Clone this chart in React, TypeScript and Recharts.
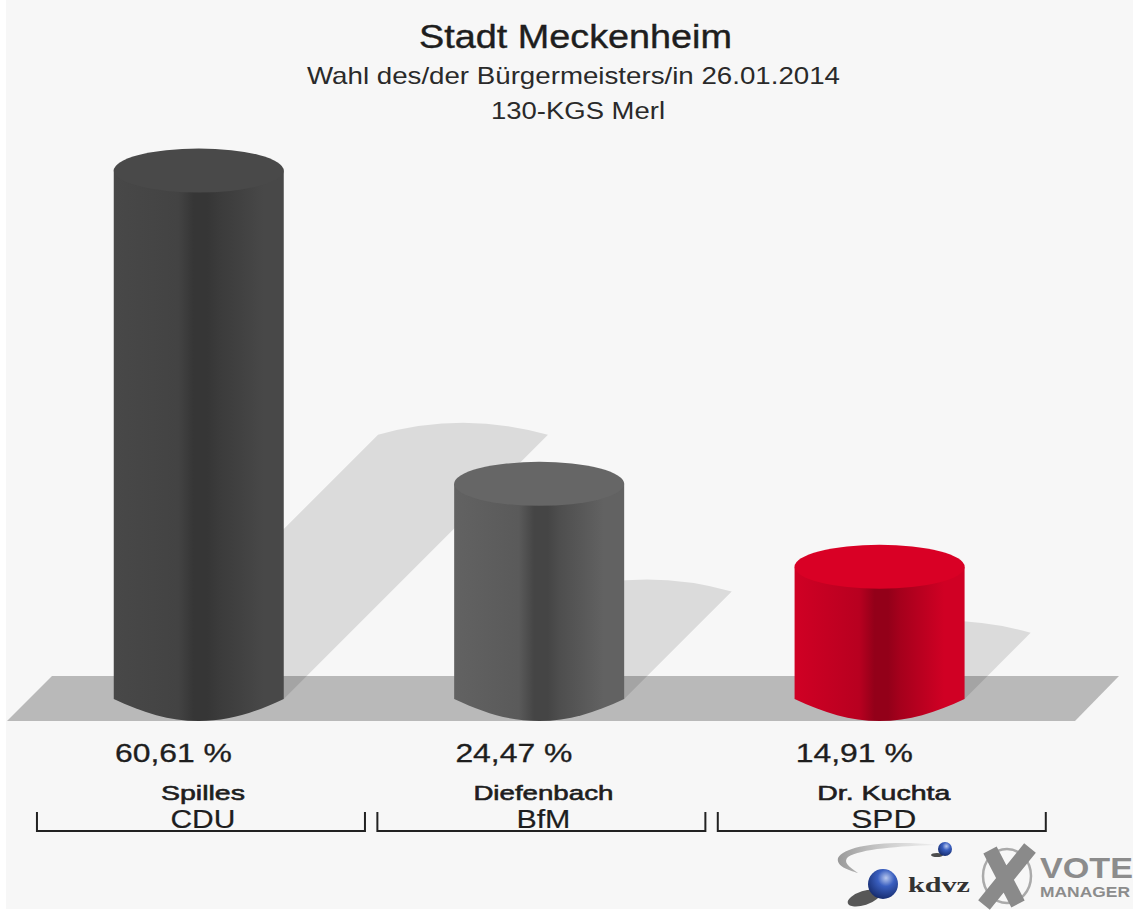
import React from "react";
import { BarChart, Bar, XAxis, YAxis } from "recharts";

const candidates = ["Spilles", "Diefenbach", "Dr. Kuchta"];
const parties = ["CDU", "BfM", "SPD"];
const shares = [60.61, 24.47, 14.91];
const shareLabels = ["60,61 %", "24,47 %", "14,91 %"];
const edgeColors = ["#484848", "#626262", "#d00024"];
const midColors = ["#434343", "#5a5a5a", "#b80020"];
const coreColors = ["#363636", "#454545", "#930019"];
const afterColors = ["#3b3b3b", "#4e4e4e", "#a5001c"];
const capColors = ["#494949", "#666666", "#d90025"];

const rows = candidates.map((name, i) => ({ name, party: parties[i], share: shares[i], label: shareLabels[i] }));

const W = 1133;
const H = 911;
const PLOT_TOP = 132.5;
const PLOT_BOTTOM = 696;
const BASE_DROP = 3;
const RY = 22;
const FONT = "'Liberation Sans', Arial, sans-serif";

function Stretched({ cx, y, w, size, children, fill = "#1e1e1e", weight = 400, bold = 0 }: any) {
  return (
    <text
      x={cx - w / 2}
      y={y}
      textLength={w}
      lengthAdjust="spacingAndGlyphs"
      fontFamily={FONT}
      fontSize={size}
      fontWeight={weight}
      fill={fill}
      stroke={bold ? fill : "none"}
      strokeWidth={bold}
    >
      {children}
    </text>
  );
}

function ShadowShape(props: any) {
  const { x, y, width, height, index } = props;
  const base = y + height + BASE_DROP;
  const s = (base - y) / 2;
  const right = x + width;
  const cx = x + width / 2;
  return (
    <g>
      {index === 0 && <path d="M7 721 L52 676 L1119 676 L1075 721 Z" fill="#b9b9b9" />}
      <path
        d={`M${x} ${base} L${x + s} ${base - s} Q${cx + s} ${base - s - 24} ${right + s} ${base - s} L${right} ${base} Z`}
        fill="#000"
        fillOpacity={0.11}
      />
    </g>
  );
}

function CylinderShape(props: any) {
  const { x, y, width, height, index } = props;
  const base = y + height + BASE_DROP;
  const right = x + width;
  const cx = x + width / 2;
  return (
    <g>
      <path
        d={`M${x} ${y} L${x} ${base} C${x + 30} ${base + 14} ${x + 55} ${base + RY} ${cx} ${base + RY} C${right - 55} ${base + RY} ${right - 30} ${base + 14} ${right} ${base} L${right} ${y} Z`}
        fill={`url(#cyl${index})`}
      />
      <ellipse cx={cx} cy={y} rx={width / 2} ry={RY} fill={capColors[index]} />
    </g>
  );
}

function GroupTick(props: any) {
  const { x, index } = props;
  const row = rows[index];
  const pctW = 117;
  const nameW = [84, 140, 133][index];
  const partyW = [65, 54, 65][index];
  return (
    <g>
      <Stretched cx={x - 25.5} y={762} w={pctW} size={25} bold={0.3}>{row.label}</Stretched>
      <Stretched cx={x + 4} y={800} w={nameW} size={21} bold={0.6}>{row.name}</Stretched>
      <Stretched cx={x + 4} y={828} w={partyW} size={26} bold={0.2}>{row.party}</Stretched>
      <path d={`M${x - 162} 812 V831 H${x + 166} V812`} fill="none" stroke="#222" strokeWidth={2} />
    </g>
  );
}

function Logo() {
  return (
    <g>
      <defs>
        <radialGradient id="ball" cx="0.6" cy="0.3" r="0.8">
          <stop offset="0" stopColor="#b8c8ee" />
          <stop offset="0.35" stopColor="#3a5fc0" />
          <stop offset="1" stopColor="#10235f" />
        </radialGradient>
        <linearGradient id="swoosh" x1="0" x2="1" y1="0" y2="0">
          <stop offset="0" stopColor="#999" />
          <stop offset="1" stopColor="#ddd" stopOpacity={0.4} />
        </linearGradient>
      </defs>
      <path d="M936 845 C890 840 845 845 838 858 C836 866 848 870 858 873 C848 866 843 862 848 857 C860 849 900 846 936 845 Z" fill="url(#swoosh)" />
      <ellipse cx={864} cy={898} rx={17} ry={7} fill="#222" opacity={0.75} transform="rotate(-18 864 898)" />
      <circle cx={883} cy={884} r={15} fill="url(#ball)" />
      <ellipse cx={937} cy={855} rx={6} ry={2} fill="#222" opacity={0.8} />
      <circle cx={945} cy={849} r={7} fill="url(#ball)" />
      <text x={908} y={892} fontFamily="'Liberation Serif', serif" fontWeight={700} fontSize={20} fill="#333" textLength={62} lengthAdjust="spacingAndGlyphs">kdvz</text>
      <ellipse cx={1007} cy={876} rx={24} ry={27} fill="none" stroke="#aaa" strokeWidth={2.5} />
      <path d="M990 850 L1018 904 M1030 848 L984 905" stroke="#8a8a8a" strokeWidth={15} fill="none" />
      <text x={1040} y={878} fontFamily={FONT} fontWeight={700} fontSize={30} fill="#8c8c8c" textLength={93} lengthAdjust="spacingAndGlyphs">VOTE</text>
      <text x={1040} y={897} fontFamily={FONT} fontWeight={700} fontSize={14} fill="#8c8c8c" textLength={90} lengthAdjust="spacingAndGlyphs">MANAGER</text>
    </g>
  );
}

export default function App() {
  return (
    <div style={{ position: "absolute", left: 0, top: 0, width: W, height: H, background: "#fff" }}>
      <BarChart
        width={W}
        height={H}
        data={rows}
        margin={{ top: PLOT_TOP, right: 83, bottom: 0, left: 28.75 }}
        barSize={170}
        barGap={-170}
        barCategoryGap={0}
      >
        <defs>
          {edgeColors.map((c, i) => (
            <linearGradient id={`cyl${i}`} key={c} x1="0" x2="1" y1="0" y2="0">
              <stop offset="0" stopColor={c} />
              <stop offset="0.38" stopColor={midColors[i]} />
              <stop offset="0.47" stopColor={coreColors[i]} />
              <stop offset="0.55" stopColor={coreColors[i]} />
              <stop offset="0.62" stopColor={afterColors[i]} />
              <stop offset="0.88" stopColor={c} />
              <stop offset="1" stopColor={c} />
            </linearGradient>
          ))}
        </defs>
        <rect x={6} y={0} width={W - 6} height={909} fill="#f7f7f7" />
        <Stretched cx={575.5} y={48} w={313} size={33} bold={0.4}>Stadt Meckenheim</Stretched>
        <Stretched cx={573.5} y={84} w={533} size={24} fill="#2a2a2a">Wahl des/der Bürgermeisters/in 26.01.2014</Stretched>
        <Stretched cx={578} y={119} w={174} size={23} fill="#2a2a2a">130-KGS Merl</Stretched>
        <XAxis
          dataKey="name"
          height={215}
          axisLine={false}
          tickLine={false}
          interval={0}
          tick={<GroupTick />}
        />
        <YAxis hide domain={[0, 65]} />
        <Bar dataKey="share" isAnimationActive={false} shape={<ShadowShape />} />
        <Bar dataKey="share" isAnimationActive={false} shape={<CylinderShape />} />
        <Logo />
      </BarChart>
    </div>
  );
}
